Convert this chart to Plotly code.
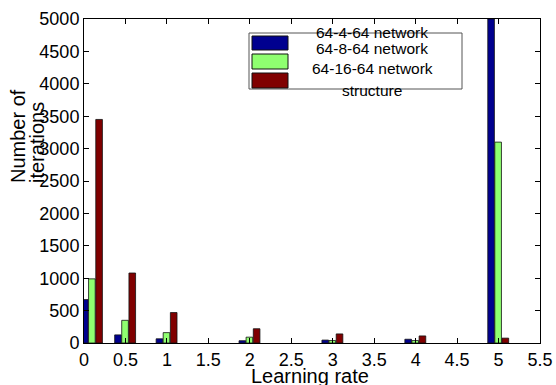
import plotly.graph_objects as go

# ---- data ----
learning_rates = [0.1, 0.5, 1, 2, 3, 4, 5]
net_4 = [670, 125, 65, 35, 45, 58, 5000]
net_8 = [990, 350, 160, 90, 38, 38, 3100]
net_16 = [3450, 1080, 470, 220, 140, 109, 75]
series_names = ["64-4-64 network", "64-8-64 network", "64-16-64 network structure"]
x_ticks = [0, 0.5, 1, 1.5, 2, 2.5, 3, 3.5, 4, 4.5, 5, 5.5]
x_tick_labels = ["0", "0.5", "1", "1.5", "2", "2.5", "3", "3.5", "4", "4.5", "5", "5.5"]
y_ticks = list(range(0, 5001, 500))

colors = ["#00008F", "#8FFF70", "#800000"]
offsets = [-0.13, -0.045, 0.042]
FONT = "Liberation Sans, Arial, Helvetica, sans-serif"

fig = go.Figure()
for vals, name, col, off in zip([net_4, net_8, net_16], series_names, colors, offsets):
    fig.add_trace(go.Bar(
        x=learning_rates, y=vals, name=name, offset=off, width=0.08,
        marker=dict(color=col, line=dict(color="#111111", width=0.8)),
        showlegend=False,
    ))

W, H = 556, 385
L, R, T, B = 84, 540, 19, 343

def px(x):
    return (x - L) / (R - L)

def py(y):
    return (B - y) / (B - T)

fig.update_layout(
    width=W, height=H,
    margin=dict(l=L, r=W - R, t=T, b=H - B, autoexpand=False),
    paper_bgcolor="white", plot_bgcolor="white",
    barmode="overlay",
    font=dict(family=FONT, color="black"),
    xaxis=dict(range=[0, 5.5], tickvals=x_ticks, ticktext=x_tick_labels,
               ticks="inside", ticklen=5, tickcolor="black", automargin=False,
               showline=True, linecolor="black", linewidth=1, mirror="ticks",
               showgrid=False, zeroline=False, tickfont=dict(size=18)),
    yaxis=dict(range=[0, 5000], tickvals=y_ticks,
               ticks="inside", ticklen=5, tickcolor="black", automargin=False,
               showline=True, linecolor="black", linewidth=1, mirror="ticks",
               showgrid=False, zeroline=False, tickfont=dict(size=18)),
)

# legend box drawn manually (matches the overlapping legend layout)
shapes = [
    dict(type="rect", xref="paper", yref="paper",
         x0=px(249), x1=px(462), y0=py(89), y1=py(33),
         line=dict(color="#555555", width=1), fillcolor="white", layer="above"),
]
sw = [(36, 50), (54, 69), (73, 88)]
for (y0, y1), col in zip(sw, colors):
    shapes.append(dict(type="rect", xref="paper", yref="paper",
                       x0=px(252), x1=px(288), y0=py(y1), y1=py(y0),
                       line=dict(color="#111111", width=1), fillcolor=col, layer="above"))
fig.update_layout(shapes=shapes)

legend_lines = [("64-4-64 network", 32.5), ("64-8-64 network", 48.5),
                ("64-16-64 network", 68.5), ("structure", 90.5)]
annos = []
for txt, yy in legend_lines:
    annos.append(dict(text=txt, xref="paper", yref="paper", x=px(372), y=py(yy),
                      xanchor="center", yanchor="middle", showarrow=False,
                      font=dict(size=15.5, family=FONT, color="black")))

annos.append(dict(text="Learning rate", xref="paper", yref="paper", x=px(310), y=py(376),
                  xanchor="center", yanchor="middle", showarrow=False,
                  font=dict(size=20, family=FONT, color="black")))
annos.append(dict(text="Number of", xref="paper", yref="paper", x=px(18), y=py(136),
                  xanchor="center", yanchor="middle", showarrow=False, textangle=-90,
                  font=dict(size=20, family=FONT, color="black")))
annos.append(dict(text="iterations", xref="paper", yref="paper", x=px(37), y=py(143),
                  xanchor="center", yanchor="middle", showarrow=False, textangle=-90,
                  font=dict(size=20, family=FONT, color="black")))
fig.update_layout(annotations=annos)

fig.write_html("out.html", config={"displayModeBar": False},
               post_script="document.body.style.margin='0px';document.body.style.padding='0px';")
